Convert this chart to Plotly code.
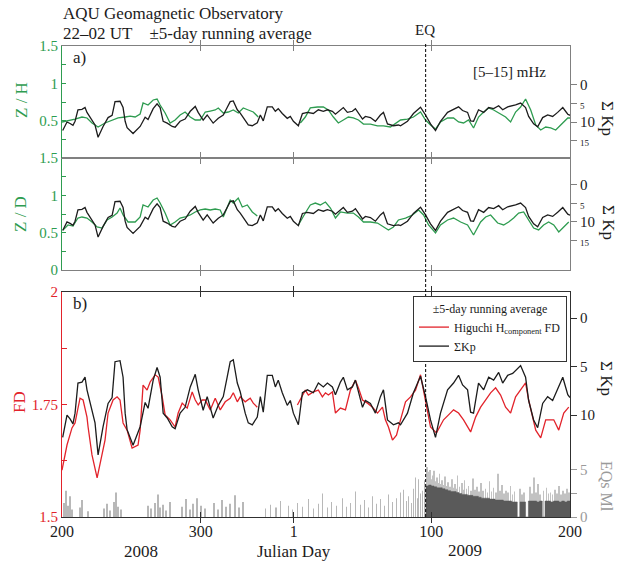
import plotly.graph_objects as go

# ---------------- data ----------------
# time axis: days elapsed since Julian day 200 of 2008 (2008 is a leap year)
x_tick_pos = [0, 100, 167, 266, 366]
x_tick_labels = ["200", "300", "1", "100", "200"]
eq_day = 262  # L'Aquila earthquake, Julian day 96 of 2009

# Sum Kp (+-5-day running average)
kp_series = [(0.5, 12.3), (3.6, 10.0), (5.8, 10.4), (7.9, 10.9), (9.4, 9.8), (11.5, 6.7), (14.4, 6.6),
             (16.6, 6.1), (18.0, 7.4), (21.6, 9.5), (23.8, 10.8), (26.0, 14.1), (29.6, 11.2), (33.2, 8.8),
             (36.1, 8.2), (38.2, 4.5), (41.8, 4.4), (44.0, 6.1), (45.5, 9.8), (46.9, 11.5), (51.2, 13.1),
             (56.3, 11.2), (59.9, 8.7), (62.0, 9.3), (65.7, 6.4), (68.5, 5.1), (70.7, 6.1), (72.9, 9.8),
             (75.8, 10.3), (79.4, 11.2), (81.5, 11.4), (85.1, 9.8), (88.7, 9.2), (92.4, 7.1), (96.0, 5.8),
             (98.1, 7.4), (101.7, 9.5), (104.6, 8.1), (106.8, 9.2), (108.9, 10.3), (112.6, 9.0), (116.2, 8.1),
             (119.0, 6.1), (121.2, 4.5), (123.4, 4.3), (126.3, 6.7), (128.4, 7.6), (132.0, 9.8), (134.2, 10.8),
             (137.1, 11.0), (140.7, 10.2), (142.9, 8.1), (145.0, 9.7), (147.9, 5.9), (151.5, 5.9), (153.7, 7.1),
             (155.8, 6.4), (158.7, 7.7), (162.3, 9.0), (164.5, 8.5), (166.7, 9.8), (170.3, 11.0), (173.2, 7.7),
             (176.8, 7.4), (181.1, 7.7), (184.7, 6.7), (188.3, 7.1), (191.2, 6.7), (194.8, 7.1), (197.0, 7.9),
             (200.6, 6.6), (202.7, 6.1), (205.6, 7.4), (209.2, 7.1), (211.4, 6.4), (213.6, 7.7), (216.5, 9.2),
             (218.6, 8.5), (222.2, 8.8), (225.8, 9.8), (229.4, 8.1), (231.6, 7.4), (234.5, 10.5), (238.8, 11.0),
             (242.4, 10.8), (243.9, 11.0), (248.9, 9.8), (253.2, 7.7), (258.3, 6.0), (261.9, 8.1), (265.5, 10.5),
             (269.1, 12.3), (272.7, 9.8), (277.8, 7.4), (282.1, 6.7), (285.7, 5.9), (288.6, 6.9), (292.2, 7.4),
             (294.4, 9.7), (296.5, 9.8), (300.1, 6.7), (303.8, 7.4), (307.4, 6.1), (311.0, 6.4), (314.6, 5.6),
             (317.5, 6.7), (321.1, 5.9), (324.7, 5.7), (326.8, 5.4), (330.4, 4.9), (334.0, 6.1), (336.2, 8.5),
             (339.8, 10.5), (342.7, 11.3), (346.3, 8.8), (349.9, 8.1), (353.5, 8.5), (357.1, 7.4), (360.8, 6.1),
             (364.4, 7.9), (366.0, 8.2)]

# Z/H polarization ratio [5-15] mHz (None = data gap)
zh_series = [(0.0, 0.482), (4.3, 0.496), (9.4, 0.522), (14.4, 0.549), (18.0, 0.536), (21.6, 0.469),
             (26.0, 0.415), (31.0, 0.469), (36.1, 0.509), (40.4, 0.536), (45.5, 0.549), (49.1, 0.562),
             (52.7, 0.549), (56.3, 0.589), (58.4, 0.737), (62.0, 0.710), (65.7, 0.777), (68.5, 0.790),
             (70.7, 0.710), (74.3, 0.603), (77.9, 0.469), (81.5, 0.509), (85.1, 0.576), (88.7, 0.616),
             (92.4, 0.549), (96.0, 0.509), (99.6, 0.509), (103.2, 0.616), (106.8, 0.629), (110.4, 0.643),
             (112.6, 0.670), (116.2, 0.603), (119.8, 0.616), (123.4, 0.643), (127.0, 0.603), (130.6, 0.670),
             (134.2, 0.643), (137.8, 0.616), (141.4, 0.549), (155.0, None),
             (171.7, 0.469), (175.3, 0.549), (178.9, 0.670), (184.0, 0.683), (188.3, 0.683), (191.9, 0.643),
             (195.5, 0.549), (199.1, 0.469), (202.7, 0.509), (206.3, 0.549), (209.9, 0.536), (213.6, 0.509),
             (217.2, 0.455), (222.2, 0.455), (227.3, 0.429), (231.6, 0.429), (236.6, 0.415), (240.3, 0.469),
             (243.9, 0.509), (248.9, 0.522), (253.2, 0.549), (258.3, 0.616), (261.9, 0.509), (265.5, 0.442),
             (269.1, 0.388), (272.7, 0.482), (277.8, 0.536), (282.1, 0.536), (285.7, 0.482), (289.3, 0.469),
             (292.9, 0.509), (296.5, 0.402), (300.1, 0.549), (303.8, 0.616), (307.4, 0.670), (311.0, 0.643),
             (314.6, 0.603), (319.6, 0.549), (323.2, 0.482), (326.8, 0.616), (330.4, 0.683), (334.0, 0.790),
             (337.7, 0.643), (341.3, 0.442), (344.9, 0.375), (348.5, 0.415), (352.1, 0.402), (355.7, 0.375),
             (359.3, 0.442), (364.4, 0.536), (366.0, 0.536)]

# Z/D polarization ratio [5-15] mHz
zd_series = [(0.7, 0.536), (4.3, 0.603), (7.9, 0.589), (11.5, 0.696), (14.4, 0.710), (18.0, 0.696),
             (21.6, 0.643), (25.3, 0.576), (28.9, 0.562), (32.5, 0.670), (36.1, 0.710), (39.7, 0.763),
             (41.8, 0.830), (44.0, 0.737), (47.6, 0.643), (52.7, 0.643), (56.3, 0.710), (58.4, 0.871),
             (62.0, 0.844), (65.7, 0.937), (68.5, 0.964), (70.7, 0.897), (74.3, 0.763), (77.9, 0.603),
             (81.5, 0.643), (85.1, 0.696), (88.7, 0.710), (92.4, 0.737), (96.0, 0.777), (99.6, 0.804),
             (103.2, 0.817), (106.8, 0.804), (110.4, 0.817), (114.0, 0.804), (116.2, 0.710), (119.0, 0.844),
             (121.2, 0.937), (123.4, 0.897), (127.0, 0.964), (129.9, 0.844), (133.5, 0.871), (137.1, 0.777),
             (140.7, 0.723), (155.0, None),
             (170.3, 0.603), (171.7, 0.643), (175.3, 0.763), (178.9, 0.871), (182.5, 0.897), (186.1, 0.871),
             (189.8, 0.910), (193.4, 0.830), (197.0, 0.696), (200.6, 0.777), (205.6, 0.763), (209.9, 0.763),
             (213.6, 0.710), (217.2, 0.643), (222.2, 0.643), (227.3, 0.629), (231.6, 0.576), (235.2, 0.536),
             (238.8, 0.576), (242.4, 0.670), (247.5, 0.696), (252.5, 0.737), (256.9, 0.804), (260.5, 0.737),
             (264.1, 0.603), (269.1, 0.496), (272.7, 0.603), (277.8, 0.670), (282.1, 0.696), (287.2, 0.643),
             (292.2, 0.603), (296.5, 0.469), (301.6, 0.643), (305.2, 0.710), (308.8, 0.737), (313.9, 0.629),
             (318.2, 0.603), (321.8, 0.643), (325.4, 0.696), (329.0, 0.763), (332.6, 0.777), (336.2, 0.670),
             (339.8, 0.562), (343.4, 0.536), (347.0, 0.603), (350.6, 0.643), (354.3, 0.603), (357.9, 0.509),
             (361.5, 0.576), (365.1, 0.643)]

# Higuchi fractal dimension of H component
fd_series = [(0.0, 1.604), (3.6, 1.660), (7.2, 1.698), (9.4, 1.709), (10.8, 1.731), (13.0, 1.764),
             (15.2, 1.760), (18.0, 1.722), (18.8, 1.700), (21.6, 1.638), (25.3, 1.587), (28.1, 1.627),
             (31.0, 1.671), (33.2, 1.731), (36.8, 1.760), (39.7, 1.767), (41.8, 1.760), (44.0, 1.709),
             (46.9, 1.693), (50.5, 1.653), (54.8, 1.660), (56.3, 1.693), (58.4, 1.793), (61.3, 1.782),
             (63.5, 1.800), (67.1, 1.816), (69.3, 1.811), (72.2, 1.767), (74.3, 1.727), (77.9, 1.716),
             (81.5, 1.700), (83.7, 1.731), (86.6, 1.753), (90.2, 1.742), (93.8, 1.778), (96.0, 1.760),
             (98.1, 1.749), (101.0, 1.760), (103.2, 1.760), (106.8, 1.738), (110.4, 1.764), (114.0, 1.738),
             (117.6, 1.756), (121.2, 1.764), (123.4, 1.776), (126.3, 1.756), (128.4, 1.767), (132.0, 1.756),
             (135.6, 1.764), (137.8, 1.753), (140.7, 1.744), (155.0, None),
             (169.6, 1.749), (173.2, 1.771), (175.3, 1.782), (177.5, 1.771), (181.1, 1.778), (184.7, 1.782),
             (187.6, 1.767), (189.8, 1.776), (191.9, 1.771), (194.8, 1.778), (197.0, 1.731), (200.6, 1.742),
             (204.2, 1.738), (207.8, 1.782), (211.4, 1.804), (213.6, 1.787), (216.5, 1.760), (220.1, 1.753),
             (223.7, 1.744), (227.3, 1.731), (230.9, 1.744), (233.0, 1.716), (235.2, 1.700), (238.1, 1.671),
             (241.0, 1.682), (243.9, 1.716), (247.5, 1.756), (251.1, 1.767), (254.7, 1.782), (258.3, 1.816),
             (260.5, 1.782), (263.3, 1.731), (265.5, 1.700), (269.8, 1.687), (274.9, 1.716), (278.5, 1.727),
             (282.1, 1.738), (285.7, 1.731), (289.3, 1.716), (294.4, 1.689), (298.0, 1.722), (301.6, 1.744),
             (305.2, 1.760), (308.8, 1.776), (312.4, 1.787), (316.0, 1.771), (319.6, 1.744), (323.2, 1.731),
             (326.8, 1.767), (330.4, 1.782), (334.0, 1.798), (336.2, 1.760), (339.1, 1.722), (341.3, 1.693),
             (344.9, 1.676), (348.5, 1.716), (352.1, 1.716), (354.3, 1.716), (357.9, 1.693), (361.5, 1.731),
             (365.1, 1.744)]

# earthquake local magnitudes (Ml) before the main shock
eq_pre = [(1.4, 1.5), (2.9, 2.8), (4.3, 1.2), (5.8, 2.2), (7.2, 0.8), (13.0, 1.0), (14.4, 1.8), (18.8, 0.6),
          (30.3, 0.9), (32.5, 1.4), (34.6, 0.7), (37.5, 1.6), (39.0, 2.6), (40.4, 1.1), (42.6, 0.8),
          (62.0, 1.2), (64.2, 0.9), (67.1, 1.5), (69.3, 2.4), (70.7, 1.0), (72.9, 1.3), (75.0, 0.7), (77.9, 1.6),
          (86.6, 1.1), (89.5, 1.9), (92.4, 0.8), (94.5, 1.4), (97.4, 2.0), (100.3, 1.2), (103.2, 0.9),
          (109.7, 1.5), (112.6, 0.8), (115.4, 1.8), (118.3, 1.1), (121.2, 1.4), (124.8, 2.3), (127.7, 1.0),
          (130.6, 1.6), (146.5, 0.9), (150.1, 1.3), (154.4, 1.0), (157.3, 1.7), (163.1, 1.2), (166.0, 0.8),
          (169.6, 1.5), (173.2, 1.1), (177.5, 1.9), (181.1, 0.9), (184.7, 1.4), (187.6, 2.5), (191.2, 1.0),
          (194.1, 1.6), (197.7, 1.2), (202.0, 2.0), (204.9, 1.1), (207.8, 1.5), (211.4, 2.7), (215.0, 1.3),
          (217.9, 1.8), (220.8, 1.0), (223.7, 2.2), (226.6, 1.4), (229.4, 1.9), (232.3, 1.2), (235.2, 2.4),
          (238.1, 1.6), (241.0, 2.0), (243.9, 2.6), (246.1, 2.9), (248.2, 1.7), (249.7, 2.2), (251.8, 1.5),
          (253.2, 3.0), (254.7, 4.2), (256.1, 2.0), (256.9, 4.0), (258.3, 2.5), (259.7, 2.8), (261.2, 3.9)]

# aftershock sequence: dense envelope (2-day bins) and the largest individual events
eq_after_t = list(range(262, 367, 2))
eq_after_ml = [3.3, 3.4, 3.3, 3.2, 3.1, 3.1, 3.0, 2.9, 2.8, 2.7, 2.7, 2.6, 2.5, 2.4, 2.4, 2.3, 2.3, 2.2,
               2.2, 2.1, 2.0, 2.0, 2.0, 1.9, 1.9, 1.8, 1.8, 1.8, 1.7, 1.7, 1.7, 1.6, 1.6, 0.0, 1.6, 1.6,
               0.0, 1.7, 1.7, 1.7, 1.6, 1.7, 0.0, 1.7, 1.7, 1.6, 1.7, 1.7, 1.6, 1.7, 1.6, 1.7, 1.6]
eq_after_peaks = [(262.5, 4.6), (263, 5.3), (263.6, 4.1), (264, 4.8), (264.7, 3.9), (265, 5.0), (266, 4.0),
                  (267, 4.4), (268, 4.9), (269, 3.8), (270, 4.2), (271, 3.6), (272, 4.6), (273, 3.5),
                  (274, 3.9), (275, 3.4), (276, 4.3), (277, 3.3), (278, 3.7), (279.5, 3.2), (281, 4.0),
                  (282, 3.1), (283, 3.5), (284, 3.0), (285, 4.4), (286.5, 3.2), (288, 3.6), (289, 2.9),
                  (290, 3.9), (291.5, 3.0), (293, 3.3), (294.5, 2.8), (296, 4.1), (297.5, 2.9), (299, 3.2),
                  (300.5, 2.7), (302, 3.6), (303.5, 2.8), (305, 3.0), (306.5, 2.6), (308, 3.8), (309.5, 2.7),
                  (311, 3.1), (312.5, 2.6), (314, 4.6), (315.5, 2.8), (317, 3.4), (318.5, 2.5), (320, 2.8),
                  (321.5, 2.6), (323, 3.3), (324.5, 2.4), (326, 2.7), (330, 3.0), (331.5, 2.4), (333, 2.6),
                  (337, 3.2), (338.5, 2.5), (340, 4.2), (341.5, 2.6), (343, 3.5), (344.5, 2.4), (347, 2.8),
                  (349, 3.1), (350.5, 2.5), (352, 2.6), (353.5, 2.4), (355, 2.9), (356.5, 2.5), (358, 3.3),
                  (359.5, 2.4), (361, 2.8), (362.5, 2.5), (364, 3.0), (365.5, 2.6)]


def unzip(series):
    return [p[0] for p in series], [p[1] for p in series]


kp_t, kp_val = unzip(kp_series)
zh_t, zh_val = unzip(zh_series)
zd_t, zd_val = unzip(zd_series)
fd_t, fd_val = unzip(fd_series)
pre_t, pre_ml = unzip(eq_pre)
pk_t, pk_ml = unzip(eq_after_peaks)

# ---------------- style / layout ----------------
W, H = 618, 564
FONT = "Liberation Serif"
GREEN = "#2e9c50"
RED = "#e2232b"
BLACK = "#1c1c1c"
GRAY = "#9a9a9a"


def px(v):
    return v / W


def py(v):
    return 1 - v / H


X_DOM = [px(62), px(570)]
DOM_A1 = [py(158), py(46)]
DOM_A2 = [py(270), py(158)]
DOM_B = [py(517), py(292)]

LW = 1.3
fig = go.Figure()

# panel a1: Z/H and Kp
fig.add_trace(go.Scatter(x=zh_t, y=zh_val, xaxis="x3", yaxis="y5", mode="lines",
                         line=dict(color=GREEN, width=LW), showlegend=False))
fig.add_trace(go.Scatter(x=kp_t, y=kp_val, xaxis="x3", yaxis="y6", mode="lines",
                         line=dict(color=BLACK, width=LW), showlegend=False))
# panel a2: Z/D and Kp
fig.add_trace(go.Scatter(x=zd_t, y=zd_val, xaxis="x2", yaxis="y3", mode="lines",
                         line=dict(color=GREEN, width=LW), showlegend=False))
fig.add_trace(go.Scatter(x=kp_t, y=kp_val, xaxis="x2", yaxis="y4", mode="lines",
                         line=dict(color=BLACK, width=LW), showlegend=False))
# panel b
fig.add_trace(go.Scatter(x=fd_t, y=fd_val, xaxis="x", yaxis="y", mode="lines",
                         line=dict(color=RED, width=LW),
                         name='Higuchi H<sub><span style="color:#1c1c1c">component</span></sub> FD'))
fig.add_trace(go.Scatter(x=kp_t, y=kp_val, xaxis="x", yaxis="y2", mode="lines",
                         line=dict(color=BLACK, width=LW), name="ΣKp"))
fig.add_trace(go.Bar(x=pre_t, y=pre_ml, xaxis="x", yaxis="y7", width=0.45,
                     marker=dict(color="#b8b8b8", line=dict(width=0)), showlegend=False))
fig.add_trace(go.Bar(x=pk_t, y=pk_ml, xaxis="x", yaxis="y7", width=0.45,
                     marker=dict(color="#c2c2c2", line=dict(width=0)), showlegend=False))
fig.add_trace(go.Scatter(x=eq_after_t, y=eq_after_ml, xaxis="x", yaxis="y7", mode="lines",
                         line=dict(color="#5a5a5a", width=0.5, shape="hv"), fill="tozeroy",
                         fillcolor="#5a5a5a", showlegend=False))

A_LINE = "#808080"
B_LINE = "#303030"


def xax(anchor, labels, lc):
    return dict(domain=X_DOM, range=[0, 366], anchor=anchor, tickmode="array", tickvals=x_tick_pos,
                ticktext=x_tick_labels, ticks="inside", ticklen=5, tickcolor=lc, showline=True,
                linecolor=lc, linewidth=1, mirror="allticks", showgrid=False, zeroline=False,
                automargin=False, showticklabels=labels,
                tickfont=dict(family=FONT, size=16, color=BLACK))


def small(s):
    return '<span style="font-size:9px">%s</span>' % s


ratio_ticks = [0, 0.25, 0.5, 0.75, 1.0, 1.25, 1.5]


def ratio_axis(domain, anchor, text):
    return dict(domain=domain, anchor=anchor, range=[0, 1.5], tickmode="array", tickvals=ratio_ticks,
                ticktext=text, ticks="inside", ticklen=4, tickcolor=GREEN, showline=True,
                linecolor=GREEN, linewidth=1, showgrid=False, zeroline=False, automargin=False,
                tickfont=dict(family=FONT, size=15, color=GREEN))


def kp_axis(over, anchor, rng, vals, text, lc):
    return dict(overlaying=over, anchor=anchor, side="right", range=rng, tickmode="array",
                tickvals=vals, ticktext=text, ticks="outside", ticklen=6, tickcolor=lc,
                showline=True, linecolor=lc, linewidth=1, showgrid=False, zeroline=False,
                automargin=False, tickfont=dict(family=FONT, size=15, color=BLACK))


fig.update_layout(
    template="none",
    width=W, height=H, autosize=False,
    margin=dict(l=0, r=0, t=0, b=0, pad=0),
    paper_bgcolor="white", plot_bgcolor="white",
    font=dict(family=FONT, color=BLACK),
    barmode="overlay",
    xaxis=xax("y", True, B_LINE),
    xaxis2=dict(xax("y3", False, A_LINE), matches="x"),
    xaxis3=dict(xax("y5", False, A_LINE), matches="x"),
    yaxis=dict(domain=DOM_B, anchor="x", range=[1.5, 2.0], tickmode="array",
               tickvals=[1.5, 1.625, 1.75, 1.875, 2.0], ticktext=["1.5", "", "1.75", "", "2"],
               ticks="inside", ticklen=5, tickcolor=RED, showline=True, linecolor=RED, linewidth=1,
               showgrid=False, zeroline=False, automargin=False,
               tickfont=dict(family=FONT, size=15, color=RED)),
    yaxis2=kp_axis("y", "x", [20.5, -2.68], [0, 5, 10], ["0", "5", "10"], B_LINE),
    yaxis7=dict(overlaying="y", anchor="x", side="right", range=[0, 23.9], tickmode="array",
                tickvals=[0, 2.5, 5], ticktext=["0", "", "5"], ticks="outside", ticklen=6,
                tickcolor=GRAY, showline=False, showgrid=False, zeroline=False, automargin=False,
                tickfont=dict(family=FONT, size=15, color=GRAY)),
    yaxis3=ratio_axis(DOM_A2, "x2", ["0", "", "0.5", "", "1", "", "1.5"]),
    yaxis4=kp_axis("y3", "x2", [23.0, -7.3], [0, 5, 10, 15], ["0", small("5"), "10", small("15")], A_LINE),
    yaxis5=ratio_axis(DOM_A1, "x3", ["", "", "0.5", "", "1", "", "1.5"]),
    yaxis6=kp_axis("y5", "x3", [19.7, -10.5], [0, 5, 10, 15], ["0", small("5"), "10", small("15")], A_LINE),
    legend=dict(x=px(413), y=py(296), xanchor="left", yanchor="top", bgcolor="white",
                bordercolor="#333", borderwidth=1, itemwidth=30, tracegroupgap=0,
                font=dict(family=FONT, size=12, color=BLACK),
                title=dict(text="±5-day running average", side="top center",
                           font=dict(family=FONT, size=12, color=BLACK))),
    showlegend=True,
)

# EQ marker line
fig.add_shape(type="line", xref="x", yref="paper", x0=eq_day, x1=eq_day, y0=py(517), y1=py(42),
              line=dict(color="black", width=1, dash="3px,2px"))


def ann(text, x, y, size=16, color=BLACK, angle=0, xanchor="center"):
    fig.add_annotation(text=text, x=px(x), y=py(y), xref="paper", yref="paper", showarrow=False,
                       xanchor=xanchor, yanchor="middle", textangle=angle,
                       font=dict(family=FONT, size=size, color=color))


ann("AQU Geomagnetic Observatory", 61, 14, size=17, xanchor="left")
ann("22–02 UT\u00a0\u00a0\u00a0\u00a0±5-day running average", 61, 33, size=17, xanchor="left")
ann("EQ", 425, 30, size=15)
ann("a)", 79, 58, size=17)
ann("b)", 80, 303, size=17)
ann("[5–15] mHz", 509, 72, size=15)
ann("Z / H", 21, 100, size=17, color=GREEN, angle=-90)
ann("Z / D", 21, 214, size=17, color=GREEN, angle=-90)
ann("FD", 19, 402, size=17, color=RED, angle=-90)
ann("Σ Kp", 608, 118, size=17, angle=90)
ann("Σ Kp", 608, 222, size=17, angle=90)
ann("Σ Kp", 607, 378, size=17, angle=90)
ann("EQs Ml", 607, 486, size=16, color=GRAY, angle=90)
ann("2008", 141, 551, size=17)
ann("Julian Day", 294, 551, size=17)
ann("2009", 465, 550, size=17)

fig.write_html("out.html", config={"displayModeBar": False},
               post_script="document.body.style.margin='0';document.body.style.overflow='hidden';")
